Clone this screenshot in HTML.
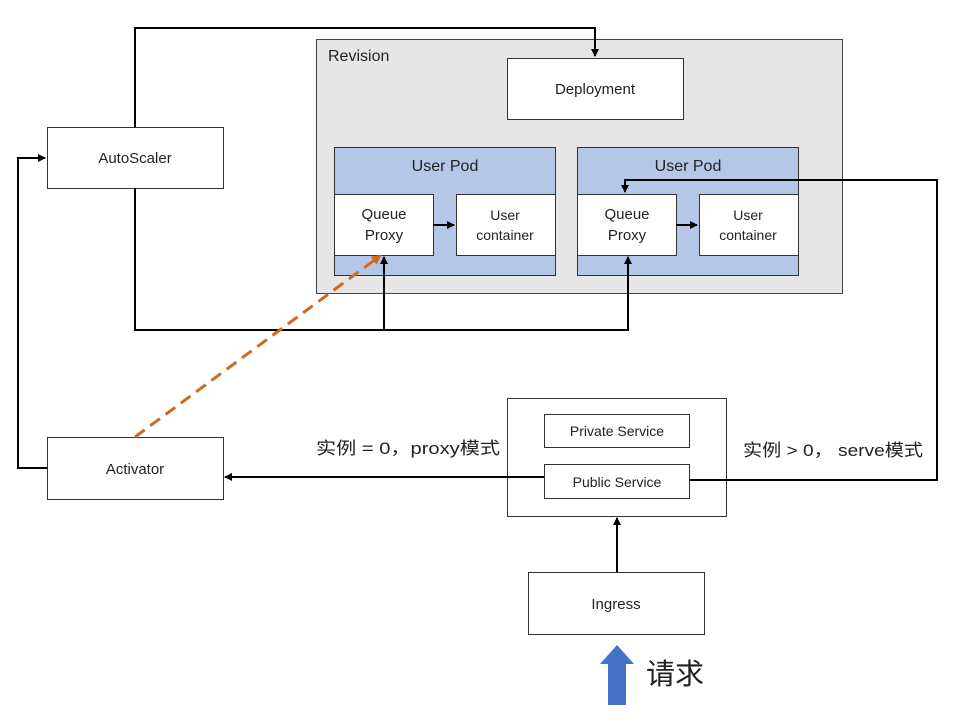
<!DOCTYPE html>
<html><head><meta charset="utf-8"><style>body{margin:0;background:#fff}svg{display:block}text{font-family:"Liberation Sans","Noto Sans CJK SC",sans-serif;fill:#222}</style></head><body>
<svg width="960" height="722" viewBox="0 0 960 722" xmlns="http://www.w3.org/2000/svg">
<defs><marker id="a" markerWidth="8" markerHeight="8" refX="7" refY="4" orient="auto" markerUnits="userSpaceOnUse"><path d="M0,0L8,4L0,8z" fill="#000"/></marker>
<marker id="o" markerWidth="10" markerHeight="10" refX="8" refY="5" orient="auto" markerUnits="userSpaceOnUse"><path d="M0,0L10,5L0,10z" fill="#d06a1e"/></marker></defs>
<rect x="316.5" y="39.5" width="526" height="254" fill="#e6e6e6" stroke="#444"/>
<text x="328" y="61" font-size="16">Revision</text>
<rect x="507.5" y="58.5" width="176" height="61" fill="#fff" stroke="#333"/>
<text x="595" y="94" font-size="15" text-anchor="middle">Deployment</text>
<g stroke="#333" fill="#b4c7e7"><rect x="334.5" y="147.5" width="221" height="128"/><rect x="577.5" y="147.5" width="221" height="128"/></g>
<text x="445" y="171" font-size="16" text-anchor="middle">User Pod</text>
<text x="688" y="171" font-size="16" text-anchor="middle">User Pod</text>
<g stroke="#333" fill="#fff"><rect x="334.5" y="194.5" width="99" height="61"/><rect x="456.5" y="194.5" width="99" height="61"/><rect x="577.5" y="194.5" width="99" height="61"/><rect x="699.5" y="194.5" width="99" height="61"/>
<rect x="47.5" y="127.5" width="176" height="61"/><rect x="47.5" y="437.5" width="176" height="62"/><rect x="507.5" y="398.5" width="219" height="118"/><rect x="544.5" y="414.5" width="145" height="33"/><rect x="544.5" y="464.5" width="145" height="34"/><rect x="528.5" y="572.5" width="176" height="62"/></g>
<g font-size="15" text-anchor="middle"><text x="384" y="219">Queue</text><text x="384" y="240">Proxy</text><text x="627" y="219">Queue</text><text x="627" y="240">Proxy</text></g>
<g font-size="14" text-anchor="middle"><text x="505" y="220">User</text><text x="505" y="240">container</text><text x="748" y="220">User</text><text x="748" y="240">container</text>
<text x="135" y="163" font-size="15">AutoScaler</text><text x="135" y="474" font-size="15">Activator</text>
<text x="617" y="436">Private Service</text><text x="617" y="487">Public Service</text><text x="616" y="609" font-size="15">Ingress</text></g>
<g stroke="#000" stroke-width="2" fill="none">
<path d="M433,225H454" marker-end="url(#a)"/><path d="M676,225H697" marker-end="url(#a)"/>
<path d="M135,127V28H595V56" marker-end="url(#a)"/>
<path d="M135,188V330H628V257" marker-end="url(#a)"/>
<path d="M384,330V257" marker-end="url(#a)"/>
<path d="M47,468H18V158H45" marker-end="url(#a)"/>
<path d="M689,480H937V180H625V192" marker-end="url(#a)"/>
<path d="M544,477H225" marker-end="url(#a)"/>
<path d="M617,572V518" marker-end="url(#a)"/>
</g>
<path d="M135,437L380,256" stroke="#d06a1e" stroke-width="3" stroke-dasharray="12,7" fill="none" marker-end="url(#o)"/>
<path d="M608,705V664H600L617,645L634,664H626V705Z" fill="#4472c4"/>
<text x="316" y="454" font-size="17" textLength="184" lengthAdjust="spacingAndGlyphs">实例 = 0，proxy模式</text>
<text x="743" y="456" font-size="17" textLength="180" lengthAdjust="spacingAndGlyphs">实例 &gt; 0， serve模式</text>
<text x="646" y="684" font-size="29">请求</text>
</svg></body></html>
